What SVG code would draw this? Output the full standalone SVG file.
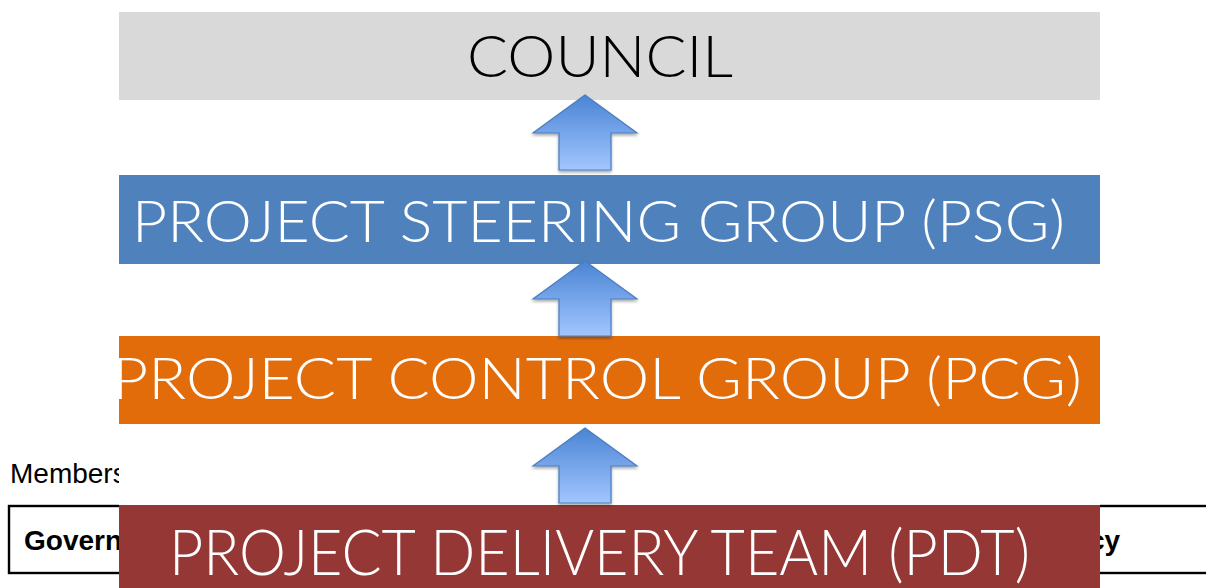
<svg xmlns="http://www.w3.org/2000/svg" width="1206" height="588" viewBox="0 0 1206 588">
  <style>
    .doc { font-family: "Liberation Sans", Arial, sans-serif; font-size: 28px; fill: #000; }
    .docb { font-weight: bold; }
    .lbl { font-family: Lato, "Open Sans", "DejaVu Sans", sans-serif; font-weight: 300; }
    .lbl-w { fill: #ffffff; }
    .lbl-k { fill: #000000; }
    .arrow { fill: url(#arrowFill); stroke: #4a7cc0; stroke-width: 1.2; filter: url(#arrowShadow); }
  </style>
  <defs>
    <linearGradient id="arrowFill" x1="0" y1="0" x2="0" y2="1">
      <stop offset="0" stop-color="#4a84d4"/>
      <stop offset="1" stop-color="#a2c6ff"/>
    </linearGradient>
    <filter id="arrowShadow" x="-20%" y="-20%" width="140%" height="140%">
      <feGaussianBlur in="SourceAlpha" stdDeviation="1.5"/>
      <feOffset dx="0" dy="2" result="b"/>
      <feComponentTransfer><feFuncA type="linear" slope="0.35"/></feComponentTransfer>
      <feMerge><feMergeNode/><feMergeNode in="SourceGraphic"/></feMerge>
    </filter>
    <clipPath id="pcgClip"><rect x="119" y="336" width="981" height="88"/></clipPath>
    <path id="upArrow" d="M0,0 L52,38 L26,38 L26,75 L-26,75 L-26,38 L-52,38 Z"/>
  </defs>

  <rect x="0" y="0" width="1206" height="588" fill="#ffffff"/>

  <!-- document text behind the chart -->
  <g id="doc-text">
    <text class="doc" x="10" y="483">Members</text>
    <rect x="9" y="506" width="1210" height="67" fill="none" stroke="#000" stroke-width="2.4"/>
    <text class="doc docb" x="24" y="550">Govern</text>
    <text class="doc docb" x="1089" y="550">cy</text>
  </g>

  <!-- chart panel -->
  <rect x="119" y="0" width="981" height="588" fill="#ffffff"/>

  <g id="council">
    <rect x="119" y="12" width="981" height="88" fill="#d9d9d9"/>
    <text class="lbl lbl-k" x="467" y="77" font-size="58" textLength="266" lengthAdjust="spacingAndGlyphs">COUNCIL</text>
  </g>

  <g id="psg">
    <rect x="119" y="175" width="981" height="89" fill="#4f81bd"/>
    <text class="lbl lbl-w" x="132" y="242" font-size="58" textLength="933" lengthAdjust="spacingAndGlyphs">PROJECT STEERING GROUP (PSG)</text>
  </g>

  <g id="pcg">
    <rect x="119" y="336" width="981" height="88" fill="#e36c0a"/>
    <text class="lbl lbl-w" x="112" y="399" font-size="58" textLength="970" lengthAdjust="spacingAndGlyphs" clip-path="url(#pcgClip)">PROJECT CONTROL GROUP (PCG)</text>
  </g>

  <g id="pdt">
    <rect x="119" y="505" width="981" height="83" fill="#953735"/>
    <text class="lbl lbl-w" x="169" y="575" font-size="63" textLength="861" lengthAdjust="spacingAndGlyphs">PROJECT DELIVERY TEAM (PDT)</text>
  </g>

  <g id="connectors">
    <use href="#upArrow" class="arrow" x="585" y="95"/>
    <use href="#upArrow" class="arrow" x="585" y="261"/>
    <use href="#upArrow" class="arrow" x="585" y="428"/>
  </g>
</svg>
